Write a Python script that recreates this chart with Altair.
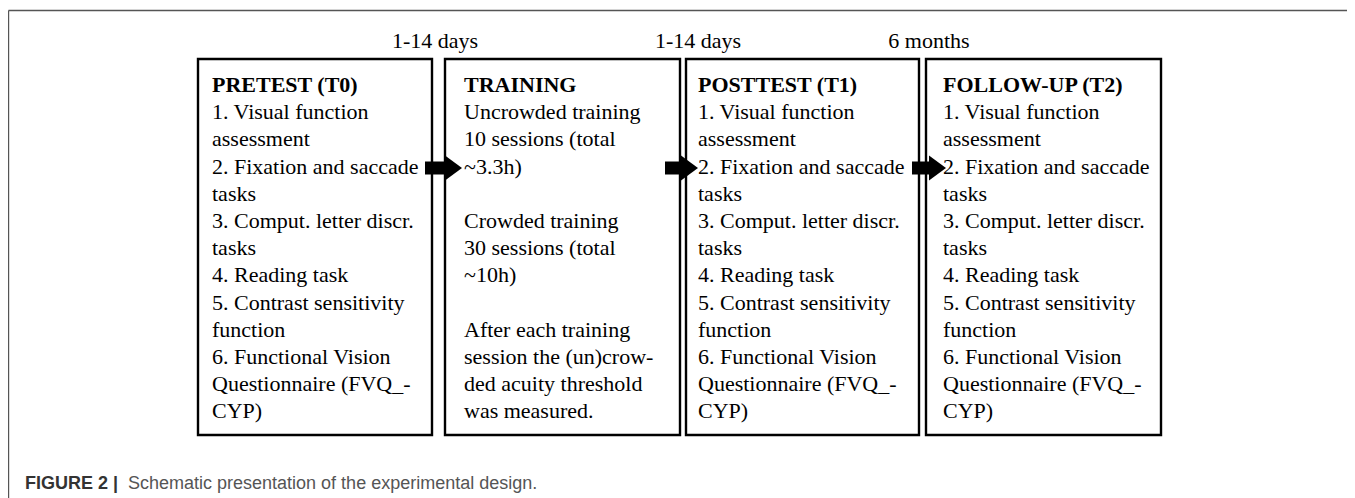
import altair as alt
import pandas as pd

# ---- content ----
stage_titles = ["PRETEST (T0)", "TRAINING", "POSTTEST (T1)", "FOLLOW-UP (T2)"]
assessment_lines = [
    "1. Visual function", "assessment", "2. Fixation and saccade", "tasks",
    "3. Comput. letter discr.", "tasks", "4. Reading task",
    "5. Contrast sensitivity", "function", "6. Functional Vision",
    "Questionnaire (FVQ_-", "CYP)",
]
training_lines = [
    "Uncrowded training", "10 sessions (total", "~3.3h)", "",
    "Crowded training", "30 sessions (total", "~10h)", "",
    "After each training", "session the (un)crow-", "ded acuity threshold",
    "was measured.",
]
interval_labels = ["1-14 days", "1-14 days", "6 months"]
caption_bold = "FIGURE 2 |"
caption_text = "Schematic presentation of the experimental design."

# ---- layout (page pixels) ----
W, H = 1339, 490
box_left = [198, 445, 686, 926]
box_right = [432, 680, 919, 1161]
box_top, box_bottom = 59, 435
text_left = [212, 464, 698, 943]
first_baseline, line_step = 92, 27.2
interval_center = [435, 698, 929]
interval_baseline = 48
arrow_start = [425, 665, 912]
arrow_head_base = [445, 681, 930]
arrow_tip = [462, 698, 945]
arrow_y = 168
SERIF = "Liberation Serif, Times New Roman, serif"
SANS = "Liberation Sans, Arial, sans-serif"

xs = alt.Scale(domain=[8, 8 + W], nice=False, zero=False)
ys = alt.Scale(domain=[8, 8 + H], nice=False, zero=False, reverse=True)


def X(f="x"):
    return alt.X(f"{f}:Q", scale=xs, axis=None)


def Y(f="y"):
    return alt.Y(f"{f}:Q", scale=ys, axis=None)


# frame
frame = pd.DataFrame([
    {"x": 8.5, "x2": 8 + W, "y": 10.5, "y2": 10.5},
    {"x": 8.5, "x2": 8.5, "y": 10.5, "y2": 8 + H},
])
frame_layer = alt.Chart(frame).mark_rule(color="#555555", strokeWidth=1.4).encode(
    x=X(), x2="x2:Q", y=Y(), y2="y2:Q")

# boxes
boxes = pd.DataFrame({"x": box_left, "x2": box_right,
                      "y": [box_top] * 4, "y2": [box_bottom] * 4})
box_layer = alt.Chart(boxes).mark_rect(fill="white", fillOpacity=0, stroke="black",
                                       strokeWidth=2.4).encode(
    x=X(), x2="x2:Q", y=Y(), y2="y2:Q")

# titles
titles = pd.DataFrame({"t": stage_titles, "x": text_left,
                       "y": [first_baseline] * 4})
title_layer = alt.Chart(titles).mark_text(
    align="left", baseline="alphabetic", font=SERIF,
    fontSize=22, fontWeight="bold", color="black").encode(
    x=X(), y=Y(), text="t:N")

# body lines
rows = []
for i in range(4):
    lines = training_lines if i == 1 else assessment_lines
    for k, s in enumerate(lines):
        if s:
            rows.append({"t": s, "x": text_left[i],
                         "y": first_baseline + line_step * (k + 1)})
body = pd.DataFrame(rows)
body_layer = alt.Chart(body).mark_text(
    align="left", baseline="alphabetic", font=SERIF,
    fontSize=22, color="black").encode(
    x=X(), y=Y(), text="t:N")

# interval labels
ints = pd.DataFrame({"t": interval_labels, "x": interval_center,
                     "y": [interval_baseline] * 3})
int_layer = alt.Chart(ints).mark_text(
    align="center", baseline="alphabetic", font=SERIF,
    fontSize=22, color="black").encode(
    x=X(), y=Y(), text="t:N")

# arrows
shafts = pd.DataFrame({"x": arrow_start, "x2": arrow_head_base,
                       "y": [arrow_y - 6.5] * 3, "y2": [arrow_y + 6.5] * 3})
shaft_layer = alt.Chart(shafts).mark_rect(color="black").encode(
    x=X(), x2="x2:Q", y=Y(), y2="y2:Q")
heads = pd.DataFrame({"x": [(a + b) / 2 for a, b in zip(arrow_head_base, arrow_tip)],
                      "y": [arrow_y] * 3})
head_layer = alt.Chart(heads).mark_point(
    shape="M-0.68,-1L0.68,0L-0.68,1Z", filled=True, color="black",
    opacity=1, size=625, strokeWidth=0).encode(x=X(), y=Y())

# caption
cap = pd.DataFrame([{"t": caption_bold, "x": 25, "y": 489}])
cap_bold_layer = alt.Chart(cap).mark_text(
    align="left", baseline="alphabetic", font=SANS, fontSize=18,
    fontWeight="bold", color="#333333").encode(x=X(), y=Y(), text="t:N")
cap2 = pd.DataFrame([{"t": caption_text, "x": 128, "y": 489}])
cap_layer = alt.Chart(cap2).mark_text(
    align="left", baseline="alphabetic", font=SANS, fontSize=18,
    color="#555555").encode(x=X(), y=Y(), text="t:N")

chart = alt.layer(
    frame_layer, box_layer, shaft_layer, head_layer, title_layer, body_layer,
    int_layer, cap_bold_layer, cap_layer,
).properties(width=W, height=H, padding=0,
             autosize=alt.AutoSizeParams(type="none")).configure_view(stroke=None)

chart.save("out.html", embed_options={"renderer": "svg", "actions": False})
